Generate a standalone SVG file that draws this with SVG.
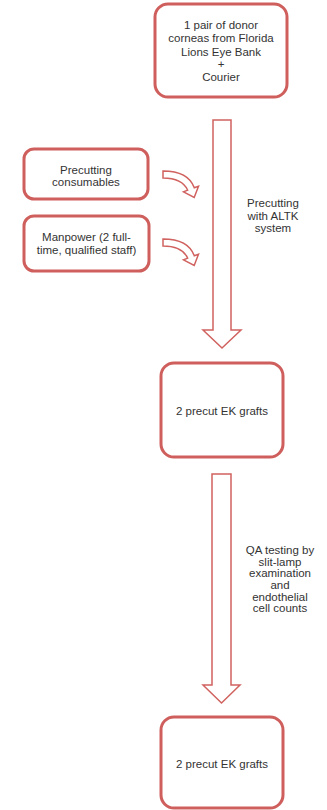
<svg xmlns="http://www.w3.org/2000/svg" width="327" height="810" viewBox="0 0 327 810">
<style>
.box{fill:#fff;stroke:#cf5f5c;stroke-width:3}
.arr{fill:#fff;stroke:#d0625f;stroke-width:1.5;stroke-linejoin:miter}
text{font-family:"Liberation Sans",Arial,sans-serif;font-size:11.5px;fill:#333;text-anchor:middle}
</style>
<rect width="327" height="810" fill="#fff"/>
<g id="connectors">
<path class="arr" d="M213,120 H231 V330 H241 L222,348 L203,330 H213 Z"/>
<path class="arr" d="M212,474 H231 V685 H240 L221.5,703 L203,685 H212 Z"/>
<path id="curve1" class="arr" d="M163,171 C178,171 190,176 194.3,187.8 L198.5,186.2 L194.2,197.5 L183.5,191.8 L187.7,190.2 C184,182 175,178 163,178 Z"/>
<path id="curve2" class="arr" transform="translate(0,68)" d="M163,171 C178,171 190,176 194.3,187.8 L198.5,186.2 L194.2,197.5 L183.5,191.8 L187.7,190.2 C184,182 175,178 163,178 Z"/>
<g id="label-precutting">
<text x="273" y="207">Precutting</text>
<text x="273" y="220">with ALTK</text>
<text x="273" y="232">system</text>
</g>
<g id="label-qa">
<text x="280" y="554">QA testing by</text>
<text x="280" y="565.5">slit-lamp</text>
<text x="280" y="577">examination</text>
<text x="280" y="588.5">and</text>
<text x="280" y="600.5">endothelial</text>
<text x="280" y="612">cell counts</text>
</g>
</g>
<g id="donor">
<rect class="box" x="155" y="4" width="132" height="93" rx="13"/>
<text x="221" y="29">1 pair of donor</text>
<text x="221" y="42">corneas from Florida</text>
<text x="221" y="55.5">Lions Eye Bank</text>
<text x="221" y="68">+</text>
<text x="221" y="81">Courier</text>
</g>
<g id="consumables">
<rect class="box" x="24" y="149" width="124" height="50" rx="10"/>
<text x="86" y="174">Precutting</text>
<text x="86" y="186">consumables</text>
</g>
<g id="manpower">
<rect class="box" x="24" y="216" width="125" height="55" rx="10"/>
<text x="86.5" y="241">Manpower (2 full-</text>
<text x="86.5" y="254">time, qualified staff)</text>
</g>
<g id="grafts1">
<rect class="box" x="161" y="363" width="122" height="94" rx="13"/>
<text x="222" y="415">2 precut EK grafts</text>
</g>
<g id="grafts2">
<rect class="box" x="161" y="717" width="122" height="91" rx="13"/>
<text x="222" y="768">2 precut EK grafts</text>
</g>
</svg>
